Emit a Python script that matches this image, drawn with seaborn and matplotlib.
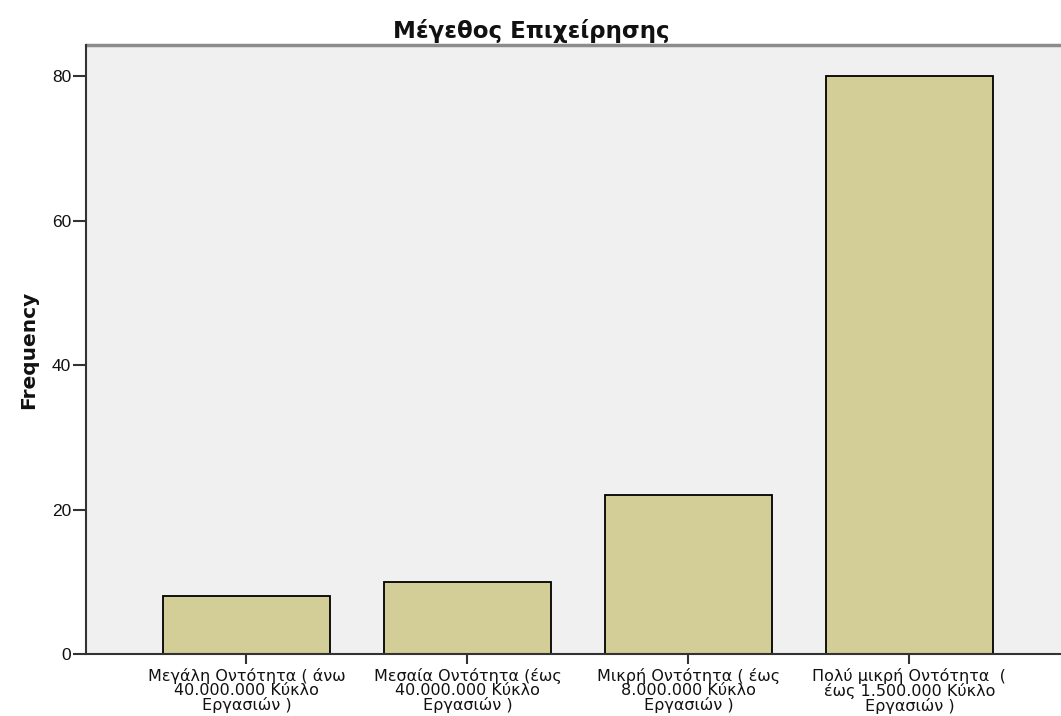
import matplotlib
matplotlib.use('Agg')
import matplotlib.pyplot as plt
import seaborn as sns
import pandas as pd

# chart data
categories = ['Μεγάλη Οντότητα ( άνω\n40.000.000 Κύκλο\nΕργασιών )',
              'Μεσαία Οντότητα (έως\n40.000.000 Κύκλο\nΕργασιών )',
              'Μικρή Οντότητα ( έως\n8.000.000 Κύκλο\nΕργασιών )',
              'Πολύ μικρή Οντότητα  (\nέως 1.500.000 Κύκλο\nΕργασιών )']
frequency = [8, 10, 22, 80]
yticks = [0, 20, 40, 60, 80]

df = pd.DataFrame({'Category': categories, 'Frequency': frequency})

sns.set_style('white')
plt.rcParams['font.family'] = ['Liberation Sans', 'DejaVu Sans']

fig = plt.figure(figsize=(10.61, 7.16), dpi=100)
ax = fig.add_axes([0.081, 0.0866, 0.919, 0.8506])
ax.set_facecolor('#F0F0F0')

sns.barplot(data=df, x='Category', y='Frequency', color='#D3CE97',
            edgecolor='black', linewidth=1.3, width=0.755, saturation=1, ax=ax)

ax.set_xlim(-0.726, 3.686)
ax.set_ylim(0, 84.3)
ax.set_yticks(yticks)
ax.tick_params(axis='y', left=True, length=9.5, width=1.5, color='#333333',
               labelsize=12.5, pad=1, labelcolor='#111111')
ax.tick_params(axis='x', bottom=True, length=7, width=1.5, color='#333333', pad=3)
ax.set_xticks(range(len(categories)))
ax.set_xticklabels(categories, linespacing=0.92, fontsize=11.5, color='#111111',
                   family=['DejaVu Sans'])
for s in ['top', 'right']:
    ax.spines[s].set_visible(False)
for s in ['left', 'bottom']:
    ax.spines[s].set_color('#333333')
    ax.spines[s].set_linewidth(1.5)
ax.axhline(84.3, color='#8C8C8C', linewidth=2.5, clip_on=False)

ax.set_xlabel('')
ax.set_ylabel('Frequency', fontsize=14.5, fontweight='bold', labelpad=10,
              family=['DejaVu Sans'], color='#111111')
ax.set_title('Μέγεθος Επιχείρησης', fontsize=16.5, fontweight='bold', pad=5,
             family=['DejaVu Sans'], color='#111111', x=0.457)

fig.savefig('out.png', dpi=100)
